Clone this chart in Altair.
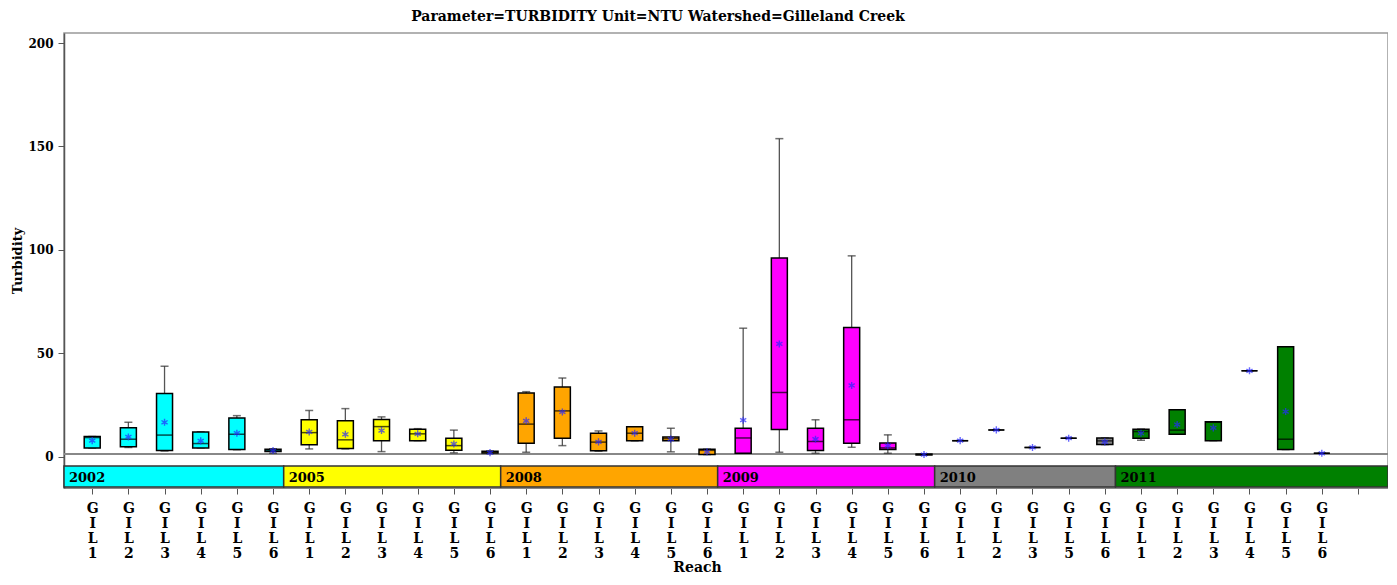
import altair as alt
import pandas as pd

# ---- data ----
years = ["2002"] * 6 + ["2005"] * 6 + ["2008"] * 6 + ["2009"] * 6 + ["2010"] * 5 + ["2011"] * 6
reaches = (["GIL1", "GIL2", "GIL3", "GIL4", "GIL5", "GIL6"] * 4
           + ["GIL1", "GIL2", "GIL3", "GIL5", "GIL6"]
           + ["GIL1", "GIL2", "GIL3", "GIL4", "GIL5", "GIL6"])
mins = [4.1, 4.4, 2.7, 4.2, 3.3, 1.6,
        3.7, 3.7, 2.4, 7.7, 1.8, 1.5,
        2.1, 5.3, 2.6, 7.6, 2.3, 1.0,
        1.6, 2.1, 1.6, 4.5, 1.6, 0.8,
        7.7, 12.9, 4.4, 8.9, 5.8,
        7.9, 10.8, 7.7, 41.5, 3.4, 1.6]
q1s = [4.1, 4.7, 2.9, 4.2, 3.4, 2.4,
       5.7, 3.9, 7.6, 7.7, 3.1, 1.7,
       6.5, 8.9, 2.8, 7.6, 7.7, 1.0,
       1.6, 13.1, 2.9, 6.5, 3.4, 0.8,
       7.7, 12.9, 4.4, 8.9, 5.8,
       8.9, 10.8, 7.7, 41.5, 3.4, 1.6]
medians = [9.2, 8.4, 10.4, 6.3, 10.8, 3.0,
           11.6, 8.1, 14.5, 11.0, 5.3, 2.2,
           15.7, 22.1, 7.0, 11.3, 8.7, 3.0,
           9.0, 31.0, 7.3, 17.8, 4.2, 1.0,
           7.7, 12.9, 4.4, 8.9, 7.6,
           12.1, 12.8, 16.6, 41.5, 8.4, 1.6]
q3s = [9.7, 13.9, 30.5, 11.9, 18.7, 3.6,
       17.8, 17.3, 17.9, 13.2, 8.9, 2.6,
       30.7, 33.7, 11.3, 14.4, 9.5, 3.6,
       13.7, 96.0, 13.7, 62.4, 6.6, 1.2,
       7.7, 12.9, 4.4, 8.9, 9.0,
       13.2, 22.6, 16.8, 41.5, 53.1, 1.6]
maxs = [9.7, 16.6, 43.7, 12.0, 19.8, 3.8,
        22.3, 23.2, 19.2, 13.5, 12.8, 2.7,
        31.4, 38.0, 12.4, 14.4, 13.7, 3.6,
        62.1, 153.8, 17.8, 97.1, 10.5, 1.2,
        7.7, 12.9, 4.4, 8.9, 9.0,
        13.3, 22.6, 16.8, 41.5, 53.1, 1.6]
means = [7.7, 9.5, 16.6, 7.6, 11.3, 2.9,
         11.9, 10.8, 12.6, 11.0, 6.1, 1.9,
         17.3, 21.6, 7.1, 11.3, 8.5, 2.3,
         17.6, 54.5, 8.4, 34.4, 5.3, 1.0,
         7.7, 12.9, 4.4, 8.9, 7.1,
         11.3, 15.5, 13.9, 41.5, 21.8, 1.6]
year_list = ["2002", "2005", "2008", "2009", "2010", "2011"]
year_colors = ["#00FFFF", "#FFFF00", "#FFA500", "#FF00FF", "#808080", "#008000"]
y_ticks = [0, 50, 100, 150, 200]

# ---- layout / style constants ----
X_MIN, X_MAX = 0.22, 36.83
Y_MIN, Y_MAX = -15.2, 204.9
BASELINE = 1.2
SERIF = "DejaVu Serif"

n = len(reaches)
df = pd.DataFrame({
    "idx": list(range(1, n + 1)),
    "year": years, "reach": reaches,
    "min": mins, "q1": q1s, "median": medians, "q3": q3s, "max": maxs, "mean": means,
})

# year block table
band_rows = []
prev_end = X_MIN
for k, yv in enumerate(year_list):
    last = max(i for i, y in zip(df["idx"], years) if y == yv)
    end = X_MAX if k == len(year_list) - 1 else last + 0.295
    band_rows.append({"year": yv, "start": prev_end, "end": end})
    prev_end = end
bands = pd.DataFrame(band_rows)

label_arr = "[" + ",".join("'" + r + "'" for r in reaches) + "]"
xscale = alt.Scale(domain=[X_MIN, X_MAX], nice=False, zero=False, padding=0)
yscale = alt.Scale(domain=[Y_MIN, Y_MAX], nice=False, zero=False, padding=0)
color = alt.Color("year:N", scale=alt.Scale(domain=year_list, range=year_colors), legend=None)

xaxis = alt.Axis(
    title="Reach", values=list(range(1, n + 2)), grid=False,
    labelExpr=f"datum.value <= {n} ? split({label_arr}[datum.value - 1], '') : ''",
    labelFont=SERIF, labelFontWeight="bold", labelFontSize=14, labelColor="black",
    labelLineHeight=15, labelPadding=7, labelOverlap=False, labelFlush=False, labelAngle=0,
    tickSize=6, tickColor="#555", domainColor="#888",
    titleFont=SERIF, titleFontWeight="bold", titleFontSize=14, titleColor="black",
    titleX=633, titleY=79, titleBaseline="middle",
)
yaxis = alt.Axis(
    title="Turbidity", values=y_ticks, grid=False,
    labelFont=SERIF, labelFontWeight="bold", labelFontSize=12, labelColor="black",
    labelPadding=5, tickSize=6, tickColor="#555", domainColor="#555", domainWidth=1.5,
    titleFont=SERIF, titleFontWeight="bold", titleFontSize=13, titleColor="black",
    titleX=-47, titleBaseline="middle",
)

X = alt.X("idx:Q", scale=xscale, axis=xaxis)
Y = lambda f: alt.Y(f"{f}:Q", scale=yscale, axis=yaxis)

base = alt.Chart(df)

band_rect = alt.Chart(bands).mark_rect(stroke="#333", strokeWidth=1.5).encode(
    x=alt.X("start:Q", scale=xscale, axis=xaxis), x2="end:Q",
    y=alt.value(433), y2=alt.value(454), color=color,
)
band_text = alt.Chart(bands).mark_text(
    align="left", baseline="middle", dx=5, dy=1, font=SERIF, fontWeight="bold", fontSize=13, color="black"
).encode(x=alt.X("start:Q", scale=xscale, axis=xaxis), y=alt.value(444), text="year:N")

baseline = alt.Chart(df).mark_rule(color="#888", strokeWidth=1).encode(
    y=alt.Y(datum=BASELINE, scale=yscale, axis=yaxis)
)

whisker = base.mark_rule(color="#555", strokeWidth=1.3).encode(x=X, y=Y("min"), y2="max:Q")
caps_lo = base.mark_tick(orient="horizontal", size=8, thickness=1.5, color="#333").encode(x=X, y=Y("min"))
caps_hi = base.mark_tick(orient="horizontal", size=8, thickness=1.5, color="#333").encode(x=X, y=Y("max"))
box = base.mark_bar(size=16, stroke="black", strokeWidth=1.5).encode(
    x=X, y=Y("q3"), y2="q1:Q", color=color
)
med = base.mark_tick(orient="horizontal", size=16, thickness=1.5, color="black").encode(x=X, y=Y("median"))
star = "M0,-1L0,1M-0.87,-0.5L0.87,0.5M-0.87,0.5L0.87,-0.5"
mean_pt = base.mark_point(shape=star, size=50, filled=False, stroke="#2828FF", strokeWidth=1.4).encode(
    x=X, y=Y("mean")
)

chart = alt.layer(
    band_rect, band_text, baseline, whisker, caps_lo, caps_hi, box, med, mean_pt
).properties(
    width=1324, height=455,
    autosize=alt.AutoSizeParams(type="none"),
    padding={"left": 56, "top": 25, "right": 0, "bottom": 88},
    title=alt.Title(
        "Parameter=TURBIDITY  Unit=NTU  Watershed=Gilleland  Creek",
        font=SERIF, fontWeight="bold", fontSize=14, color="black", dx=-68, offset=9,
    ),
).configure_view(stroke="#999", strokeWidth=1.5)

chart.save("out.html", embed_options={"renderer": "svg", "actions": False})
